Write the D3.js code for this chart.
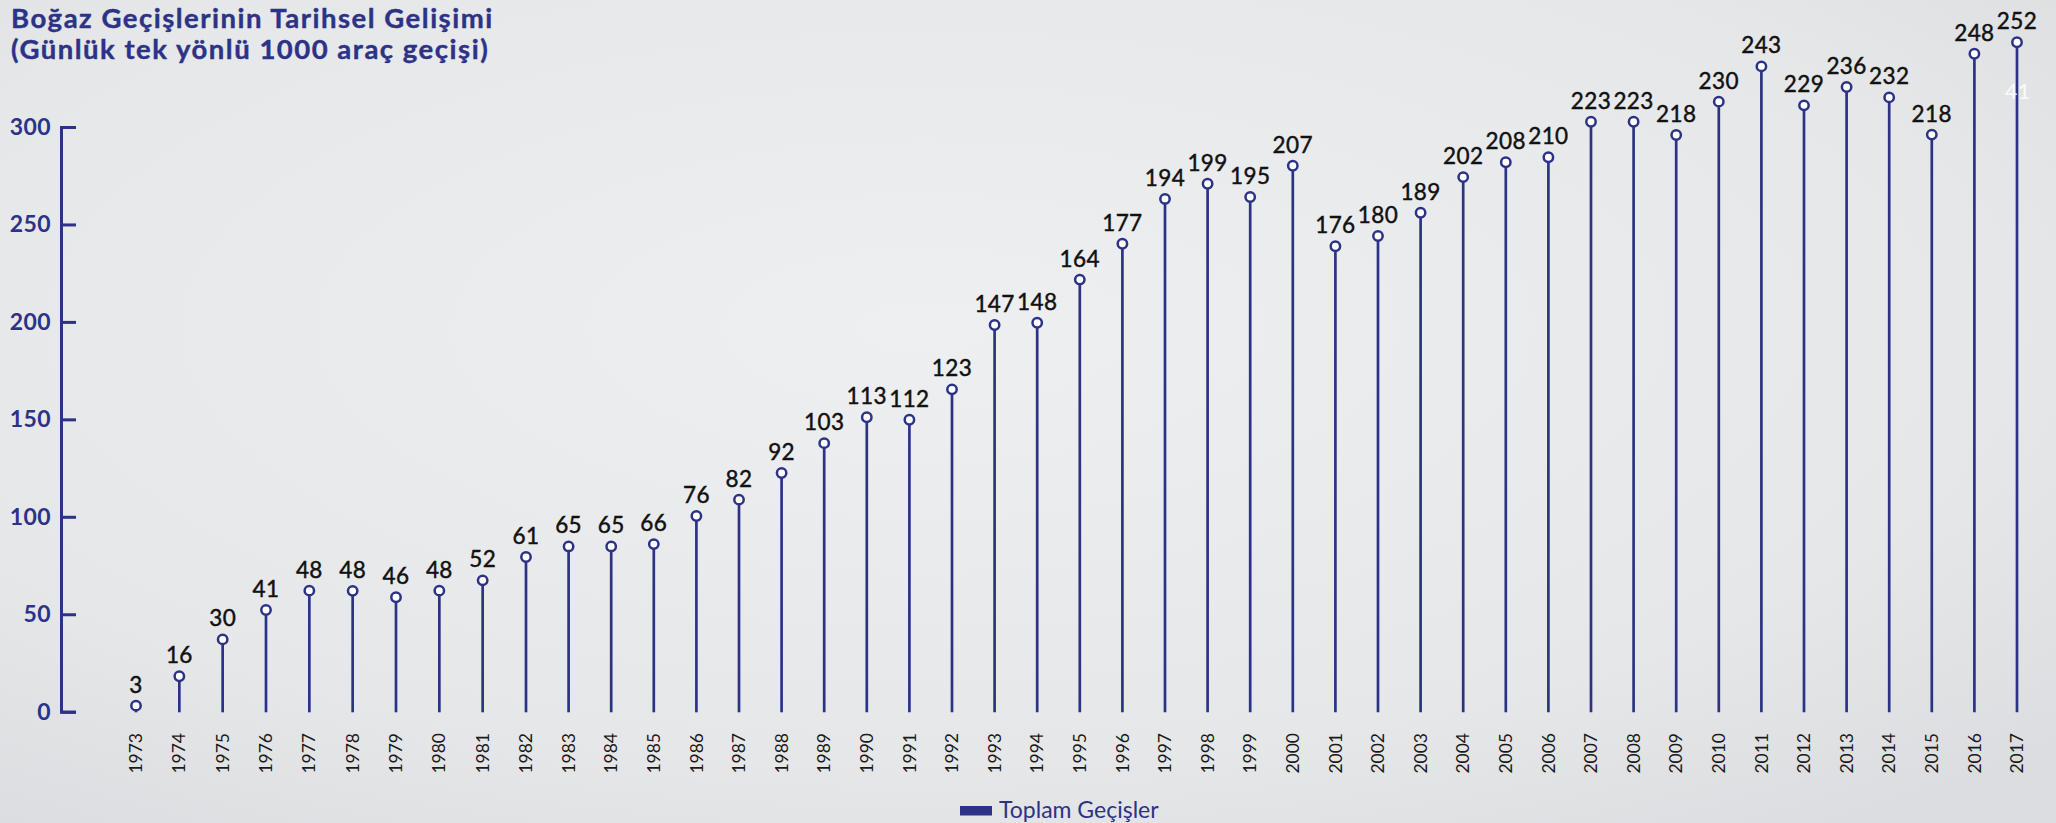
<!DOCTYPE html>
<html>
<head>
<meta charset="utf-8">
<script src="https://cdn.jsdelivr.net/npm/d3@7"></script>
<style>
  html, body { margin: 0; padding: 0; background: #e7e8ea; }
  svg { display: block; }
</style>
</head>
<body>
<div id="chart"></div>
<script>
// years on the x axis
const years = d3.range(1973, 2018);

// printed values above each pin (1000 vehicles / day, one way)
const labels = [
  3, 16, 30, 41, 48, 48, 46, 48, 52, 61,
  65, 65, 66, 76, 82, 92, 103, 113, 112, 123,
  147, 148, 164, 177, 194, 199, 195, 207, 176, 180,
  189, 202, 208, 210, 223, 223, 218, 230, 243, 229,
  236, 232, 218, 248, 252
];

// pin heights as read against the drawn 0-300 axis
const heights = [
  3.1, 18.2, 37.1, 52.2, 62.1, 62.0, 58.7, 62.1, 67.4, 79.4,
  84.8, 84.8, 86.0, 100.4, 108.8, 122.5, 137.8, 151.1, 149.8, 165.4,
  198.4, 199.6, 221.7, 240.1, 263.1, 270.9, 264.1, 280.1, 238.8, 244.1,
  256.0, 274.3, 281.9, 284.5, 302.7, 302.7, 295.9, 313.0, 331.1, 311.1,
  320.5, 315.2, 296.1, 337.6, 343.5
];

const yTicks = [0, 50, 100, 150, 200, 250, 300];

const titleLines = ['Boğaz Geçişlerinin Tarihsel Gelişimi', '(Günlük tek yönlü 1000 araç geçişi)'];
const legendLabel = 'Toplam Geçişler';

const width = 2056;
const height = 823;
const navy = '#2c3386';
const font = 'Lato, "Noto Sans", sans-serif';

const svg = d3
  .select('#chart')
  .append('svg')
  .attr('width', width)
  .attr('height', height)
  .attr('viewBox', [0, 0, width, height]);

// soft paper-like background
const defs = svg.append('defs');
const bg = defs
  .append('radialGradient')
  .attr('id', 'bg')
  .attr('cx', '45%')
  .attr('cy', '40%')
  .attr('r', '75%');
bg.append('stop').attr('offset', '0%').attr('stop-color', '#eeeff0');
bg.append('stop').attr('offset', '70%').attr('stop-color', '#e6e7e9');
bg.append('stop').attr('offset', '100%').attr('stop-color', '#dcdde0');

svg.append('rect').attr('width', width).attr('height', height).attr('fill', 'url(#bg)');

// scales: columns are spaced a bit wider at the start in the original
const x = d3.scaleLinear().domain([1973, 1982, 2017]).range([136, 526, 2017]);
const y = d3.scaleLinear().domain([0, 300]).range([711.7, 127]);

// title
svg
  .append('g')
  .selectAll('text')
  .data(titleLines)
  .join('text')
  .attr('x', 11)
  .attr('y', (d, i) => 28 + i * 31)
  .attr('fill', navy)
  .attr('stroke', navy)
  .attr('stroke-width', 0.4)
  .attr('font-family', font)
  .attr('font-weight', 700)
  .attr('font-size', 27.5)
  .attr('letter-spacing', 1.5)
  .text((d) => d);

// y axis, ticks pointing inwards
const yAxis = d3.axisLeft(y).tickValues(yTicks).tickSizeInner(-15).tickSizeOuter(-15).tickPadding(10);

const gy = svg
  .append('g')
  .attr('transform', 'translate(61,0)')
  .call(yAxis);

gy.selectAll('path, line').attr('stroke', navy).attr('stroke-width', 3);
gy.selectAll('text')
  .attr('fill', navy)
  .attr('font-family', font)
  .attr('font-weight', 700)
  .attr('font-size', 23)
  .attr('letter-spacing', 0.4);

const rows = years.map((yr, i) => ({ year: yr, label: labels[i], h: heights[i] }));

// stems
svg
  .append('g')
  .selectAll('line')
  .data(rows)
  .join('line')
  .attr('x1', (d) => x(d.year))
  .attr('x2', (d) => x(d.year))
  .attr('y1', y(0) + 0.6)
  .attr('y2', (d) => y(d.h))
  .attr('stroke', navy)
  .attr('stroke-width', 2.7);

// pin heads
svg
  .append('g')
  .selectAll('circle')
  .data(rows)
  .join('circle')
  .attr('cx', (d) => x(d.year))
  .attr('cy', (d) => y(d.h))
  .attr('r', 4.7)
  .attr('fill', '#fff')
  .attr('stroke', navy)
  .attr('stroke-width', 2.5);

// value labels
svg
  .append('g')
  .selectAll('text')
  .data(rows)
  .join('text')
  .attr('x', (d) => x(d.year))
  .attr('y', (d) => y(d.h) - 13)
  .attr('text-anchor', 'middle')
  .attr('fill', '#111')
  .attr('stroke', '#111')
  .attr('stroke-width', 0.45)
  .attr('font-family', font)
  .attr('font-weight', 400)
  .attr('font-size', 22.5)
  .attr('letter-spacing', 0.4)
  .text((d) => d.label);

// year labels, rotated
svg
  .append('g')
  .selectAll('text')
  .data(rows)
  .join('text')
  .attr('transform', (d) => `translate(${x(d.year)},733) rotate(-90)`)
  .attr('dy', '0.35em')
  .attr('text-anchor', 'end')
  .attr('fill', '#1a1a1a')
  .attr('font-family', font)
  .attr('font-weight', 400)
  .attr('font-size', 17.5)
  .text((d) => d.year);

// legend
const legend = svg.append('g').attr('transform', 'translate(960,806)');
legend.append('rect').attr('width', 32).attr('height', 9.5).attr('fill', navy);
legend
  .append('text')
  .attr('x', 39)
  .attr('y', 11.5)
  .attr('fill', navy)
  .attr('font-family', font)
  .attr('font-weight', 400)
  .attr('font-size', 23)
  .text(legendLabel);

// page number ghost
svg
  .append('text')
  .attr('x', 2017.5)
  .attr('y', 99)
  .attr('text-anchor', 'middle')
  .attr('fill', '#ffffff')
  .attr('fill-opacity', 0.85)
  .attr('font-family', font)
  .attr('font-size', 22)
  .text('41');
</script>
</body>
</html>
